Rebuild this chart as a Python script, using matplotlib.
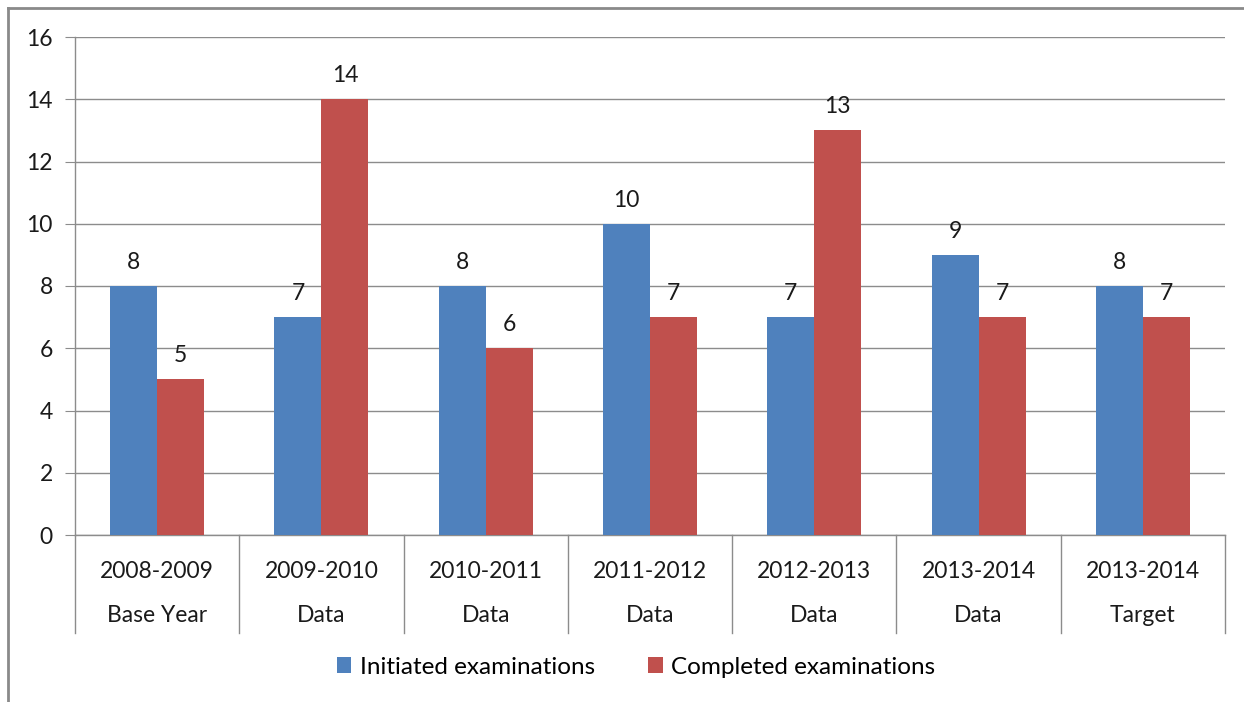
import matplotlib
matplotlib.use("Agg")
import matplotlib.pyplot as plt
import numpy as np
from matplotlib.lines import Line2D
from matplotlib.patches import Patch
from matplotlib.transforms import blended_transform_factory

years = ["2008-2009", "2009-2010", "2010-2011", "2011-2012", "2012-2013", "2013-2014", "2013-2014"]
kinds = ["Base Year", "Data", "Data", "Data", "Data", "Data", "Target"]
initiated = [8, 7, 8, 10, 7, 9, 8]
completed = [5, 14, 6, 7, 13, 7, 7]
series_names = ["Initiated examinations", "Completed examinations"]

BLUE = "#4F81BD"
RED = "#C0504D"
GRID = "#8C8C8C"
TEXT = "#1a1a1a"
FS = 16.5

plt.rcParams["font.family"] = ["Lato", "DejaVu Sans"]

W, H = 1244, 702
fig = plt.figure(figsize=(W / 100, H / 100), dpi=100)
fig.patch.set_facecolor("white")

# outer chart frame (left and top edges only are visible)
fig.add_artist(Line2D([8 / W, 8 / W], [0, 1 - 8 / H], transform=fig.transFigure,
                      color="#8a8a8a", lw=2))
fig.add_artist(Line2D([8 / W, 1], [1 - 8 / H, 1 - 8 / H], transform=fig.transFigure,
                      color="#8a8a8a", lw=2))

left, right, top, bottom = 75, 1225, 37, 535
ax = fig.add_axes([left / W, 1 - bottom / H, (right - left) / W, (bottom - top) / H])

n = len(years)
x = np.arange(n)
bw = 1 / 3.5  # Excel gap width 150%
ax.bar(x - bw / 2, initiated, bw, color=BLUE, zorder=3, label=series_names[0])
ax.bar(x + bw / 2, completed, bw, color=RED, zorder=3, label=series_names[1])

for xi, v in zip(x - bw / 2, initiated):
    ax.annotate(str(v), (xi, v), xytext=(0, 17), textcoords="offset points",
                ha="center", va="center", fontsize=FS, color=TEXT)
for xi, v in zip(x + bw / 2, completed):
    ax.annotate(str(v), (xi, v), xytext=(0, 17), textcoords="offset points",
                ha="center", va="center", fontsize=FS, color=TEXT)

ax.set_xlim(-0.5, n - 0.5)
ax.set_ylim(0, 16)
ax.set_yticks(range(0, 17, 2))
ax.yaxis.grid(True, color=GRID, lw=1)
ax.set_axisbelow(True)
ax.tick_params(axis="y", length=7, color=GRID, labelsize=FS, labelcolor=TEXT, pad=9)
ax.set_xticks([])
for s in ("top", "right"):
    ax.spines[s].set_visible(False)
for s in ("left", "bottom"):
    ax.spines[s].set_color(GRID)
    ax.spines[s].set_linewidth(1)

# two-level category axis with separators
trans = blended_transform_factory(ax.transData, ax.transAxes)
sep_bottom = -(633 - bottom) / (bottom - top)
for i in range(n + 1):
    ax.add_line(Line2D([i - 0.5, i - 0.5], [0, sep_bottom], transform=trans,
                       color=GRID, lw=1, clip_on=False))
for i in range(n):
    ax.text(i, -(572 - bottom) / (bottom - top), years[i], transform=trans,
            ha="center", va="center", fontsize=FS, color=TEXT)
    ax.text(i, -(616 - bottom) / (bottom - top), kinds[i], transform=trans,
            ha="center", va="center", fontsize=FS, color=TEXT)

handles = [Patch(facecolor=BLUE, label=series_names[0]),
           Patch(facecolor=RED, label=series_names[1])]
fig.legend(handles=handles, loc="center", bbox_to_anchor=(636 / W, 1 - 667 / H),
           ncol=2, frameon=False, fontsize=17.5, handlelength=0.6, handleheight=0.6,
           handletextpad=0.35, columnspacing=2.2)

fig.savefig("out.png", dpi=100, facecolor="white")
